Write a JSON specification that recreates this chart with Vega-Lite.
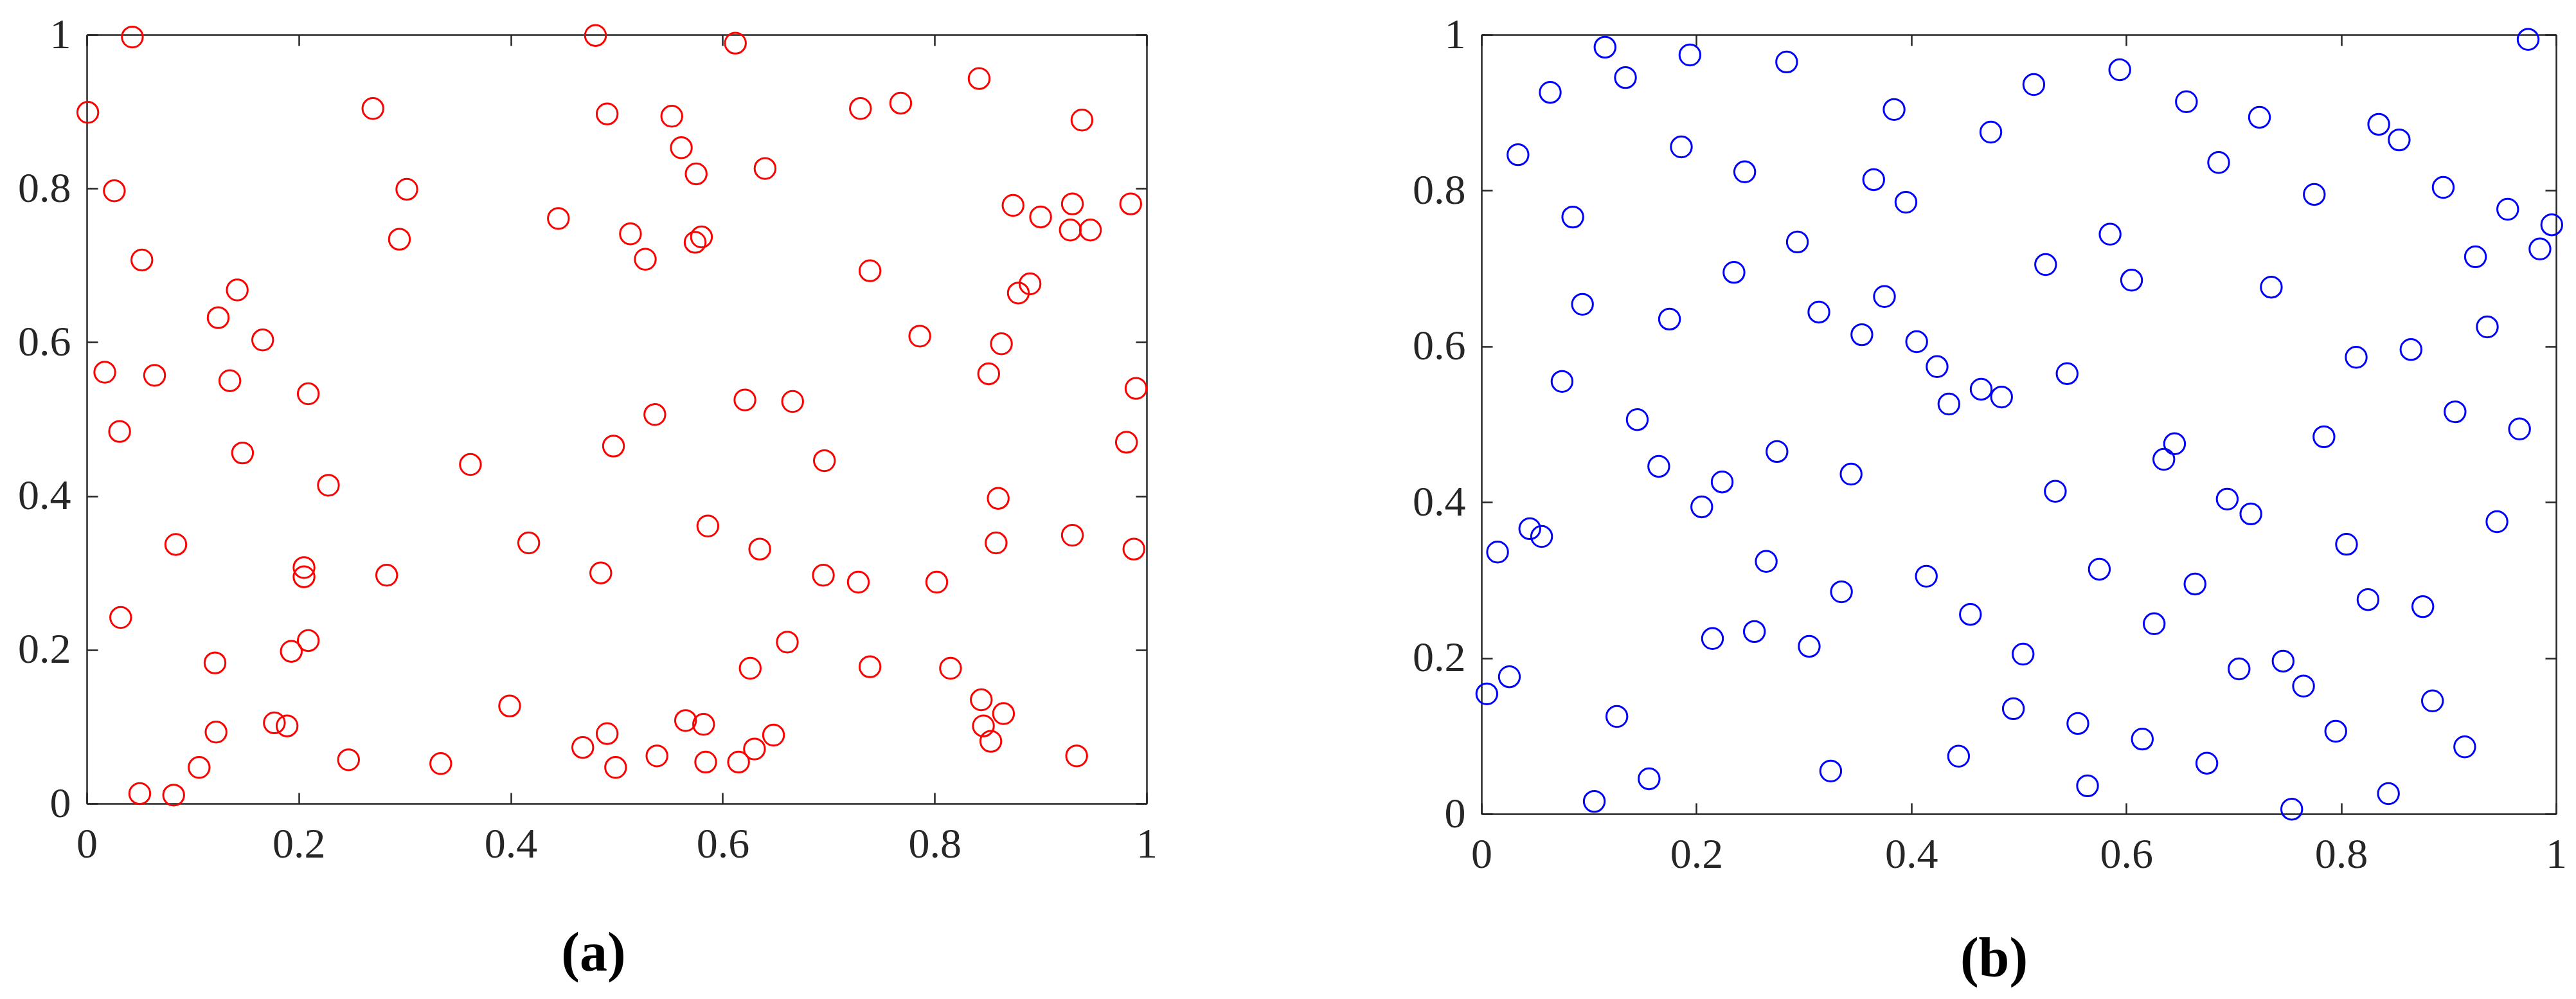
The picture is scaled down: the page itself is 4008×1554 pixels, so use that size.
{
  "$schema": "https://vega.github.io/schema/vega-lite/v6.json",
  "background": "white",
  "padding": {"left": 27, "top": 13, "right": 0, "bottom": 20},
  "autosize": {"type": "pad"},
  "spacing": 396,
  "config": {
    "view": {"stroke": null},
    "axis": {
      "grid": false,
      "labelFont": "Liberation Serif",
      "labelFontSize": 66,
      "labelColor": "#262626",
      "domainColor": "#262626",
      "domainWidth": 2.5,
      "tickColor": "#262626",
      "tickWidth": 2.5,
      "tickSize": -17,
      "labelFlush": false,
      "labelOverlap": false
    }
  },
  "datasets": {
    "a": [
      {"x":0.043,"y":0.997},{"x":0.480,"y":0.999},{"x":0.001,"y":0.899},{"x":0.270,"y":0.904},{"x":0.491,"y":0.897},
      {"x":0.026,"y":0.797},{"x":0.302,"y":0.799},{"x":0.445,"y":0.761},{"x":0.295,"y":0.734},{"x":0.513,"y":0.741},
      {"x":0.527,"y":0.708},{"x":0.052,"y":0.707},{"x":0.142,"y":0.668},{"x":0.124,"y":0.632},{"x":0.166,"y":0.603},
      {"x":0.017,"y":0.561},{"x":0.064,"y":0.557},{"x":0.135,"y":0.550},{"x":0.209,"y":0.533},{"x":0.031,"y":0.484},
      {"x":0.147,"y":0.456},{"x":0.497,"y":0.465},{"x":0.362,"y":0.441},{"x":0.228,"y":0.414},{"x":0.084,"y":0.337},
      {"x":0.417,"y":0.339},{"x":0.205,"y":0.307},{"x":0.205,"y":0.295},{"x":0.283,"y":0.297},{"x":0.485,"y":0.300},
      {"x":0.032,"y":0.242},{"x":0.209,"y":0.212},{"x":0.193,"y":0.198},{"x":0.121,"y":0.183},{"x":0.399,"y":0.127},
      {"x":0.177,"y":0.105},{"x":0.189,"y":0.101},{"x":0.122,"y":0.093},{"x":0.491,"y":0.091},{"x":0.468,"y":0.073},
      {"x":0.247,"y":0.057},{"x":0.334,"y":0.052},{"x":0.499,"y":0.047},{"x":0.106,"y":0.047},{"x":0.050,"y":0.013},
      {"x":0.082,"y":0.011},{"x":0.612,"y":0.989},{"x":0.842,"y":0.943},{"x":0.552,"y":0.894},{"x":0.730,"y":0.904},
      {"x":0.768,"y":0.911},{"x":0.939,"y":0.889},{"x":0.561,"y":0.853},{"x":0.575,"y":0.819},{"x":0.640,"y":0.826},
      {"x":0.874,"y":0.778},{"x":0.900,"y":0.763},{"x":0.930,"y":0.780},{"x":0.985,"y":0.780},{"x":0.928,"y":0.746},
      {"x":0.947,"y":0.746},{"x":0.574,"y":0.730},{"x":0.580,"y":0.737},{"x":0.739,"y":0.693},{"x":0.890,"y":0.676},
      {"x":0.879,"y":0.664},{"x":0.786,"y":0.608},{"x":0.863,"y":0.598},{"x":0.851,"y":0.559},{"x":0.990,"y":0.540},
      {"x":0.621,"y":0.525},{"x":0.666,"y":0.523},{"x":0.536,"y":0.506},{"x":0.981,"y":0.470},{"x":0.696,"y":0.446},
      {"x":0.860,"y":0.397},{"x":0.586,"y":0.361},{"x":0.930,"y":0.349},{"x":0.858,"y":0.339},{"x":0.988,"y":0.331},
      {"x":0.635,"y":0.331},{"x":0.695,"y":0.297},{"x":0.728,"y":0.288},{"x":0.802,"y":0.288},{"x":0.661,"y":0.210},
      {"x":0.626,"y":0.176},{"x":0.739,"y":0.178},{"x":0.815,"y":0.176},{"x":0.844,"y":0.135},{"x":0.865,"y":0.117},
      {"x":0.846,"y":0.101},{"x":0.853,"y":0.081},{"x":0.934,"y":0.062},{"x":0.565,"y":0.108},{"x":0.582,"y":0.103},
      {"x":0.648,"y":0.089},{"x":0.630,"y":0.071},{"x":0.538,"y":0.062},{"x":0.584,"y":0.054},{"x":0.615,"y":0.054}
    ],
    "b": [
      {"x":0.115,"y":0.984},{"x":0.194,"y":0.974},{"x":0.284,"y":0.965},{"x":0.134,"y":0.945},{"x":0.064,"y":0.926},
      {"x":0.514,"y":0.936},{"x":0.384,"y":0.904},{"x":0.474,"y":0.875},{"x":0.034,"y":0.846},{"x":0.186,"y":0.856},
      {"x":0.245,"y":0.824},{"x":0.365,"y":0.814},{"x":0.395,"y":0.785},{"x":0.085,"y":0.766},{"x":0.294,"y":0.734},
      {"x":0.235,"y":0.695},{"x":0.525,"y":0.705},{"x":0.094,"y":0.654},{"x":0.375,"y":0.664},{"x":0.175,"y":0.635},
      {"x":0.314,"y":0.644},{"x":0.354,"y":0.615},{"x":0.405,"y":0.606},{"x":0.424,"y":0.574},{"x":0.075,"y":0.555},
      {"x":0.465,"y":0.545},{"x":0.484,"y":0.535},{"x":0.435,"y":0.526},{"x":0.145,"y":0.506},{"x":0.974,"y":0.994},
      {"x":0.594,"y":0.955},{"x":0.656,"y":0.914},{"x":0.724,"y":0.894},{"x":0.835,"y":0.885},{"x":0.854,"y":0.865},
      {"x":0.686,"y":0.836},{"x":0.775,"y":0.795},{"x":0.895,"y":0.804},{"x":0.955,"y":0.776},{"x":0.996,"y":0.756},
      {"x":0.985,"y":0.725},{"x":0.925,"y":0.715},{"x":0.585,"y":0.744},{"x":0.605,"y":0.685},{"x":0.735,"y":0.676},
      {"x":0.936,"y":0.625},{"x":0.865,"y":0.596},{"x":0.814,"y":0.586},{"x":0.545,"y":0.565},{"x":0.906,"y":0.516},
      {"x":0.966,"y":0.494},{"x":0.784,"y":0.484},{"x":0.645,"y":0.475},{"x":0.275,"y":0.465},{"x":0.165,"y":0.446},
      {"x":0.344,"y":0.436},{"x":0.224,"y":0.426},{"x":0.205,"y":0.394},{"x":0.045,"y":0.366},{"x":0.056,"y":0.356},
      {"x":0.015,"y":0.336},{"x":0.265,"y":0.324},{"x":0.414,"y":0.305},{"x":0.335,"y":0.285},{"x":0.455,"y":0.256},
      {"x":0.254,"y":0.234},{"x":0.215,"y":0.225},{"x":0.305,"y":0.215},{"x":0.504,"y":0.205},{"x":0.026,"y":0.176},
      {"x":0.005,"y":0.154},{"x":0.126,"y":0.125},{"x":0.495,"y":0.135},{"x":0.444,"y":0.074},{"x":0.325,"y":0.055},
      {"x":0.156,"y":0.045},{"x":0.105,"y":0.016},{"x":0.635,"y":0.455},{"x":0.534,"y":0.414},{"x":0.694,"y":0.404},
      {"x":0.716,"y":0.385},{"x":0.945,"y":0.375},{"x":0.805,"y":0.346},{"x":0.575,"y":0.314},{"x":0.664,"y":0.295},
      {"x":0.825,"y":0.275},{"x":0.876,"y":0.266},{"x":0.626,"y":0.244},{"x":0.705,"y":0.186},{"x":0.746,"y":0.196},
      {"x":0.765,"y":0.164},{"x":0.885,"y":0.145},{"x":0.555,"y":0.116},{"x":0.795,"y":0.106},{"x":0.615,"y":0.096},
      {"x":0.915,"y":0.086},{"x":0.675,"y":0.065},{"x":0.564,"y":0.036},{"x":0.844,"y":0.026},{"x":0.754,"y":0.006}
    ]
  },
  "hconcat": [
    {
      "width": 1649,
      "height": 1196,
      "title": {"text": " ", "fontSize": 6, "offset": 2},
      "resolve": {"axis": {"x": "independent", "y": "independent"}},
      "layer": [
        {
          "data": {"name": "a"},
          "mark": {"type": "point", "opacity": 0},
          "encoding": {
            "x": {"field": "x", "type": "quantitative", "scale": {"domain": [0, 1], "nice": false, "zero": false},
                  "axis": {"orient": "top", "values": [0, 0.2, 0.4, 0.6, 0.8, 1], "labels": false, "title": null}},
            "y": {"field": "y", "type": "quantitative", "scale": {"domain": [0, 1], "nice": false, "zero": false},
                  "axis": {"orient": "right", "values": [0, 0.2, 0.4, 0.6, 0.8, 1], "labels": false, "title": null}}
          }
        },
        {
          "data": {"name": "a"},
          "mark": {"type": "point", "shape": "circle", "filled": false, "color": "#FF0000", "size": 1050, "strokeWidth": 3, "opacity": 1},
          "encoding": {
            "x": {"field": "x", "type": "quantitative", "scale": {"domain": [0, 1], "nice": false, "zero": false},
                  "axis": {"orient": "bottom", "values": [0, 0.2, 0.4, 0.6, 0.8, 1], "format": "~g", "labelPadding": 48,
                           "title": "(a)", "titleFont": "Liberation Serif", "titleFontSize": 86, "titleFontWeight": "bold",
                           "titleColor": "#000000", "titleX": 788, "titleY": 259, "titleBaseline": "alphabetic", "titleAlign": "center"}},
            "y": {"field": "y", "type": "quantitative", "scale": {"domain": [0, 1], "nice": false, "zero": false},
                  "axis": {"orient": "left", "values": [0, 0.2, 0.4, 0.6, 0.8, 1], "format": "~g", "labelPadding": 42, "title": null}}
          }
        }
      ]
    },
    {
      "width": 1672,
      "height": 1212,
      "resolve": {"axis": {"x": "independent", "y": "independent"}},
      "layer": [
        {
          "data": {"name": "b"},
          "mark": {"type": "point", "opacity": 0},
          "encoding": {
            "x": {"field": "x", "type": "quantitative", "scale": {"domain": [0, 1], "nice": false, "zero": false},
                  "axis": {"orient": "top", "values": [0, 0.2, 0.4, 0.6, 0.8, 1], "labels": false, "title": null}},
            "y": {"field": "y", "type": "quantitative", "scale": {"domain": [0, 1], "nice": false, "zero": false},
                  "axis": {"orient": "right", "values": [0, 0.2, 0.4, 0.6, 0.8, 1], "labels": false, "title": null}}
          }
        },
        {
          "data": {"name": "b"},
          "mark": {"type": "point", "shape": "circle", "filled": false, "color": "#0000FF", "size": 1050, "strokeWidth": 3, "opacity": 1},
          "encoding": {
            "x": {"field": "x", "type": "quantitative", "scale": {"domain": [0, 1], "nice": false, "zero": false},
                  "axis": {"orient": "bottom", "values": [0, 0.2, 0.4, 0.6, 0.8, 1], "format": "~g", "labelPadding": 48,
                           "title": "(b)", "titleFont": "Liberation Serif", "titleFontSize": 86, "titleFontWeight": "bold",
                           "titleColor": "#000000", "titleX": 797, "titleY": 251, "titleBaseline": "alphabetic", "titleAlign": "center"}},
            "y": {"field": "y", "type": "quantitative", "scale": {"domain": [0, 1], "nice": false, "zero": false},
                  "axis": {"orient": "left", "values": [0, 0.2, 0.4, 0.6, 0.8, 1], "format": "~g", "labelPadding": 42, "title": null}}
          }
        }
      ]
    }
  ]
}
